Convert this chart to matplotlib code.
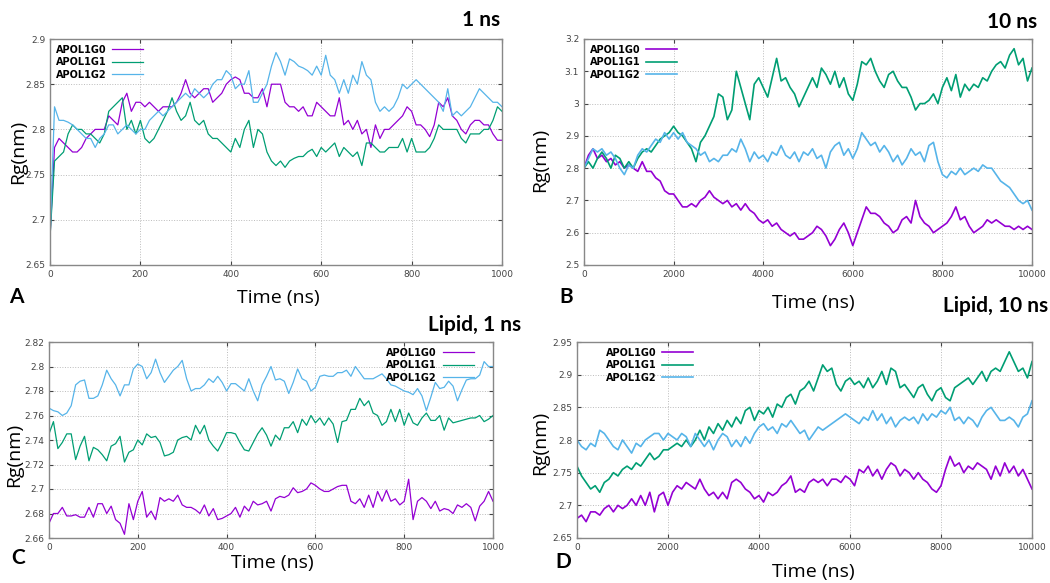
import numpy as np
import matplotlib
matplotlib.use("Agg")
import matplotlib.pyplot as plt
from matplotlib.ticker import FormatStrFormatter

# --- data ---
labels = ["APOL1G0", "APOL1G1", "APOL1G2"]
colors = ["#9400D3", "#009E73", "#56B4E9"]

t_short = np.arange(0, 1001, 10)
t_long = np.arange(0, 10001, 100)

# panel A: 1 ns
a_g0 = [2.68, 2.78, 2.79, 2.785, 2.78, 2.775, 2.775, 2.78, 2.79, 2.795,
        2.80, 2.80, 2.80, 2.815, 2.81, 2.805, 2.83, 2.84, 2.82, 2.83,
        2.83, 2.825, 2.83, 2.825, 2.82, 2.825, 2.825, 2.825, 2.83, 2.84,
        2.855, 2.84, 2.835, 2.84, 2.845, 2.845, 2.83, 2.835, 2.84, 2.85,
        2.855, 2.858, 2.855, 2.84, 2.84, 2.835, 2.835, 2.845, 2.825, 2.85,
        2.85, 2.85, 2.83, 2.825, 2.825, 2.82, 2.825, 2.815, 2.815, 2.83,
        2.825, 2.82, 2.815, 2.815, 2.835, 2.805, 2.81, 2.80, 2.81, 2.795,
        2.80, 2.78, 2.805, 2.79, 2.80, 2.80, 2.805, 2.81, 2.815, 2.825,
        2.82, 2.805, 2.805, 2.80, 2.792, 2.805, 2.83, 2.825, 2.835, 2.815,
        2.81, 2.80, 2.795, 2.805, 2.81, 2.81, 2.805, 2.805, 2.795, 2.788,
        2.788]
a_g1 = [2.68, 2.765, 2.77, 2.775, 2.795, 2.805, 2.80, 2.80, 2.795, 2.795,
        2.79, 2.785, 2.795, 2.82, 2.825, 2.83, 2.835, 2.80, 2.81, 2.795,
        2.81, 2.79, 2.785, 2.79, 2.80, 2.81, 2.82, 2.835, 2.82, 2.81,
        2.815, 2.83, 2.81, 2.805, 2.81, 2.795, 2.79, 2.79, 2.785, 2.78,
        2.775, 2.79, 2.78, 2.80, 2.81, 2.78, 2.80, 2.795, 2.775, 2.765,
        2.76, 2.765, 2.758, 2.765, 2.768, 2.77, 2.77, 2.775, 2.778, 2.77,
        2.78, 2.775, 2.78, 2.785, 2.77, 2.78, 2.775, 2.77, 2.775, 2.76,
        2.785, 2.785, 2.78, 2.775, 2.775, 2.78, 2.78, 2.78, 2.79, 2.775,
        2.79, 2.775, 2.775, 2.775, 2.78, 2.79, 2.805, 2.80, 2.80, 2.80,
        2.80, 2.79, 2.785, 2.795, 2.795, 2.795, 2.80, 2.80, 2.81, 2.825,
        2.82]
a_g2 = [2.68, 2.825, 2.81, 2.81, 2.808, 2.805, 2.80, 2.795, 2.79, 2.79,
        2.78, 2.79, 2.795, 2.805, 2.805, 2.795, 2.80, 2.805, 2.80, 2.795,
        2.80, 2.80, 2.81, 2.815, 2.82, 2.815, 2.82, 2.825, 2.83, 2.835,
        2.84, 2.835, 2.845, 2.84, 2.835, 2.84, 2.85, 2.855, 2.855, 2.865,
        2.86, 2.845, 2.85, 2.85, 2.865, 2.83, 2.83, 2.84, 2.85, 2.87,
        2.885, 2.875, 2.86, 2.878, 2.875, 2.87, 2.868, 2.865, 2.86, 2.87,
        2.86, 2.882, 2.86, 2.855, 2.84, 2.855, 2.84, 2.86, 2.85, 2.875,
        2.86, 2.855, 2.83, 2.82, 2.825, 2.82, 2.825, 2.835, 2.85, 2.845,
        2.85, 2.855, 2.85, 2.845, 2.84, 2.835, 2.83, 2.82, 2.845, 2.815,
        2.82, 2.815, 2.82, 2.825, 2.835, 2.845, 2.84, 2.835, 2.83, 2.83,
        2.825]

# panel B: 10 ns
b_g0 = [2.80, 2.84, 2.86, 2.83, 2.84, 2.82, 2.83, 2.81, 2.82, 2.80,
        2.81, 2.80, 2.79, 2.82, 2.79, 2.79, 2.77, 2.76, 2.73, 2.72,
        2.72, 2.70, 2.68, 2.68, 2.69, 2.68, 2.70, 2.71, 2.73, 2.71,
        2.70, 2.69, 2.70, 2.68, 2.69, 2.67, 2.69, 2.67, 2.66, 2.64,
        2.63, 2.64, 2.62, 2.63, 2.61, 2.60, 2.59, 2.60, 2.58, 2.58,
        2.59, 2.60, 2.62, 2.61, 2.59, 2.56, 2.58, 2.61, 2.63, 2.60,
        2.56, 2.60, 2.64, 2.68, 2.66, 2.66, 2.65, 2.63, 2.62, 2.60,
        2.61, 2.64, 2.65, 2.63, 2.70, 2.65, 2.63, 2.62, 2.60, 2.61,
        2.62, 2.63, 2.65, 2.68, 2.64, 2.65, 2.62, 2.60, 2.61, 2.62,
        2.64, 2.63, 2.64, 2.63, 2.62, 2.62, 2.61, 2.62, 2.61, 2.62,
        2.61]
b_g1 = [2.80, 2.82, 2.80, 2.83, 2.85, 2.83, 2.80, 2.84, 2.83, 2.80,
        2.82, 2.80, 2.83, 2.85, 2.86, 2.85, 2.87, 2.89, 2.90, 2.91,
        2.93, 2.91, 2.90, 2.88, 2.86, 2.82, 2.88, 2.90, 2.93, 2.96,
        3.03, 3.02, 2.95, 2.98, 3.10, 3.05, 3.00, 2.95, 3.06, 3.08,
        3.05, 3.02, 3.08, 3.14, 3.07, 3.08, 3.05, 3.03, 2.99, 3.02,
        3.05, 3.08, 3.05, 3.11, 3.09, 3.06, 3.10, 3.05, 3.08, 3.03,
        3.01, 3.06, 3.13, 3.12, 3.14, 3.10, 3.07, 3.05, 3.09, 3.10,
        3.07, 3.05, 3.05, 3.02, 2.98, 3.00, 3.00, 3.01, 3.03, 3.00,
        3.05, 3.08, 3.04, 3.09, 3.02, 3.06, 3.04, 3.06, 3.05, 3.08,
        3.07, 3.10, 3.12, 3.13, 3.11, 3.15, 3.17, 3.12, 3.14, 3.07,
        3.11]
b_g2 = [2.80, 2.83, 2.86, 2.85, 2.86, 2.84, 2.85, 2.83, 2.80, 2.78,
        2.81, 2.80, 2.84, 2.86, 2.85, 2.87, 2.89, 2.88, 2.91, 2.89,
        2.91, 2.89, 2.91, 2.88, 2.87, 2.86, 2.84, 2.85, 2.82, 2.83,
        2.82, 2.84, 2.84, 2.86, 2.85, 2.89, 2.86, 2.82, 2.85, 2.83,
        2.84, 2.82, 2.85, 2.84, 2.87, 2.84, 2.83, 2.85, 2.82, 2.85,
        2.84, 2.86, 2.83, 2.84, 2.80, 2.85, 2.87, 2.88, 2.84, 2.86,
        2.83, 2.86, 2.91, 2.89, 2.87, 2.88, 2.85, 2.87, 2.85, 2.82,
        2.84, 2.81, 2.83, 2.86, 2.84, 2.85, 2.82, 2.87, 2.88, 2.82,
        2.78, 2.77, 2.79, 2.78, 2.80, 2.78, 2.79, 2.80, 2.79, 2.81,
        2.80, 2.80, 2.78, 2.76, 2.75, 2.74, 2.72, 2.70, 2.69, 2.70,
        2.67]

# panel C: lipid, 1 ns
c_g0 = [2.672, 2.68, 2.68, 2.685, 2.678, 2.678, 2.679, 2.677, 2.677, 2.685,
        2.677, 2.688, 2.688, 2.68, 2.686, 2.675, 2.672, 2.663, 2.688, 2.675,
        2.69, 2.698, 2.677, 2.682, 2.675, 2.693, 2.69, 2.692, 2.69, 2.695,
        2.687, 2.685, 2.685, 2.683, 2.68, 2.687, 2.678, 2.684, 2.675, 2.676,
        2.678, 2.68, 2.685, 2.677, 2.686, 2.682, 2.69, 2.687, 2.688, 2.69,
        2.682, 2.692, 2.694, 2.693, 2.695, 2.701, 2.697, 2.698, 2.70, 2.705,
        2.703, 2.70, 2.698, 2.698, 2.70, 2.702, 2.703, 2.703, 2.69, 2.688,
        2.692, 2.685, 2.695, 2.685, 2.698, 2.69, 2.699, 2.69, 2.692, 2.687,
        2.69, 2.708, 2.675, 2.69, 2.693, 2.69, 2.684, 2.69, 2.682, 2.684,
        2.683, 2.68, 2.687, 2.685, 2.688, 2.685, 2.674, 2.686, 2.69, 2.698,
        2.69]
c_g1 = [2.745, 2.755, 2.733, 2.738, 2.745, 2.745, 2.724, 2.735, 2.743, 2.723,
        2.734, 2.732, 2.728, 2.723, 2.735, 2.737, 2.743, 2.722, 2.73, 2.732,
        2.74, 2.736, 2.745, 2.742, 2.743, 2.738, 2.727, 2.728, 2.73, 2.74,
        2.742, 2.743, 2.74, 2.752, 2.745, 2.752, 2.74, 2.735, 2.731, 2.738,
        2.746, 2.746, 2.745, 2.738, 2.732, 2.731, 2.738, 2.745, 2.75, 2.744,
        2.735, 2.744, 2.74, 2.75, 2.75, 2.755, 2.746, 2.757, 2.752, 2.76,
        2.754, 2.758, 2.752, 2.758, 2.753, 2.738, 2.755, 2.756, 2.765, 2.765,
        2.774, 2.768, 2.772, 2.762, 2.76, 2.752, 2.755, 2.765, 2.755, 2.765,
        2.752, 2.762, 2.754, 2.752, 2.758, 2.762, 2.756, 2.756, 2.76, 2.748,
        2.758, 2.754, 2.755, 2.756, 2.757, 2.758, 2.758, 2.76, 2.755, 2.757,
        2.76]
c_g2 = [2.766, 2.764, 2.763, 2.76, 2.762, 2.768, 2.785, 2.788, 2.789, 2.774,
        2.774, 2.776, 2.785, 2.797, 2.79, 2.785, 2.776, 2.785, 2.785, 2.798,
        2.802, 2.80, 2.79, 2.795, 2.806, 2.795, 2.787, 2.792, 2.797, 2.80,
        2.805, 2.79, 2.78, 2.782, 2.782, 2.785, 2.79, 2.787, 2.792, 2.787,
        2.78, 2.786, 2.786, 2.783, 2.78, 2.79, 2.78, 2.772, 2.785, 2.792,
        2.80, 2.789, 2.79, 2.788, 2.778, 2.787, 2.798, 2.79, 2.788, 2.78,
        2.783, 2.792, 2.793, 2.792, 2.792, 2.795, 2.795, 2.797, 2.792, 2.80,
        2.795, 2.79, 2.79, 2.79, 2.792, 2.794, 2.79, 2.785, 2.784, 2.782,
        2.78, 2.779, 2.777, 2.782, 2.776, 2.764, 2.775, 2.787, 2.782, 2.783,
        2.788, 2.784, 2.772, 2.781, 2.789, 2.79, 2.79, 2.793, 2.804, 2.80,
        2.80]

# panel D: lipid, 10 ns
d_g0 = [2.68, 2.685, 2.675, 2.69, 2.69, 2.685, 2.695, 2.70, 2.69, 2.70,
        2.695, 2.70, 2.71, 2.70, 2.715, 2.70, 2.72, 2.69, 2.715, 2.72,
        2.70, 2.72, 2.73, 2.725, 2.735, 2.73, 2.725, 2.74, 2.725, 2.715,
        2.72, 2.71, 2.72, 2.71, 2.735, 2.74, 2.735, 2.725, 2.72, 2.71,
        2.715, 2.705, 2.72, 2.715, 2.72, 2.73, 2.735, 2.745, 2.72, 2.725,
        2.72, 2.735, 2.74, 2.735, 2.74, 2.73, 2.74, 2.74, 2.735, 2.745,
        2.74, 2.73, 2.755, 2.75, 2.76, 2.745, 2.755, 2.74, 2.755, 2.765,
        2.76, 2.745, 2.755, 2.75, 2.74, 2.75, 2.74, 2.735, 2.725, 2.72,
        2.73, 2.755, 2.775, 2.76, 2.765, 2.75, 2.76, 2.755, 2.765, 2.76,
        2.755, 2.74, 2.76, 2.745, 2.765, 2.75, 2.76, 2.745, 2.755, 2.74,
        2.725]
d_g1 = [2.76, 2.745, 2.735, 2.725, 2.73, 2.72, 2.735, 2.74, 2.75, 2.745,
        2.755, 2.76, 2.755, 2.765, 2.76, 2.77, 2.78, 2.77, 2.775, 2.785,
        2.785, 2.79, 2.795, 2.79, 2.80, 2.79, 2.80, 2.815, 2.80, 2.82,
        2.81, 2.825, 2.815, 2.83, 2.82, 2.835, 2.825, 2.845, 2.85, 2.83,
        2.845, 2.84, 2.85, 2.835, 2.855, 2.85, 2.865, 2.87, 2.855, 2.875,
        2.88, 2.89, 2.875, 2.895, 2.915, 2.905, 2.91, 2.885, 2.875, 2.89,
        2.895, 2.885, 2.89, 2.88, 2.895, 2.88, 2.89, 2.905, 2.885, 2.91,
        2.905, 2.88, 2.885, 2.875, 2.865, 2.88, 2.885, 2.87, 2.86, 2.875,
        2.88, 2.865, 2.86, 2.88, 2.885, 2.89, 2.895, 2.885, 2.895, 2.905,
        2.89, 2.905, 2.91, 2.905, 2.92, 2.935, 2.92, 2.905, 2.91, 2.895,
        2.92]
d_g2 = [2.80, 2.79, 2.785, 2.795, 2.79, 2.815, 2.81, 2.80, 2.79, 2.785,
        2.80, 2.79, 2.78, 2.795, 2.79, 2.80, 2.805, 2.81, 2.81, 2.80,
        2.81, 2.805, 2.80, 2.81, 2.805, 2.79, 2.81, 2.80, 2.79, 2.80,
        2.785, 2.80, 2.81, 2.805, 2.79, 2.80, 2.79, 2.805, 2.795, 2.81,
        2.82, 2.825, 2.815, 2.82, 2.81, 2.825, 2.82, 2.83, 2.82, 2.81,
        2.815, 2.80, 2.81, 2.82, 2.815, 2.82, 2.825, 2.83, 2.835, 2.84,
        2.835, 2.83, 2.825, 2.835, 2.83, 2.845, 2.83, 2.84, 2.825, 2.835,
        2.82, 2.83, 2.835, 2.83, 2.835, 2.825, 2.84, 2.83, 2.84, 2.835,
        2.845, 2.84, 2.85, 2.83, 2.835, 2.825, 2.835, 2.83, 2.82, 2.835,
        2.845, 2.85, 2.84, 2.83, 2.83, 2.835, 2.83, 2.82, 2.835, 2.84,
        2.86]

W, H = 1050, 583


def px(x, y):
    return x / W, 1 - y / H


def setup(ax, t, series, xmax, ylim, ystep, legend_loc, lw=0.9):
    for y, c, lab in zip(series, colors, labels):
        ax.plot(t, y, color=c, lw=lw, label=lab)
    ax.set_xlim(0, xmax)
    ax.set_ylim(*ylim)
    ax.set_xticks(np.linspace(0, xmax, 6))
    ax.set_yticks(np.arange(ylim[0], ylim[1] + ystep / 2, ystep))
    ax.yaxis.set_major_formatter(FormatStrFormatter("%g"))
    ax.xaxis.set_major_formatter(FormatStrFormatter("%g"))
    ax.tick_params(direction="in", top=True, right=True, length=3,
                   labelsize=6.5, colors="#444", width=0.8)
    ax.grid(True, linestyle=":", color="#bbbbbb", lw=0.7)
    for s in ax.spines.values():
        s.set_color("#888888")
        s.set_linewidth(1.0)
    ax.legend(loc=legend_loc, frameon=False, markerfirst=False,
              prop={"size": 7, "weight": "bold"}, handlelength=3.2,
              labelspacing=0.25, borderaxespad=0.2, handletextpad=0.6)


fig = plt.figure(figsize=(10.5, 5.83), dpi=100)

axA = fig.add_axes([50 / W, 1 - 265 / H, 452 / W, 226 / H])
axB = fig.add_axes([584 / W, 1 - 265 / H, 448 / W, 226 / H])
axC = fig.add_axes([49 / W, 1 - 538 / H, 444 / W, 196 / H])
axD = fig.add_axes([577 / W, 1 - 538 / H, 455 / W, 196 / H])

setup(axA, t_short, [a_g0, a_g1, a_g2], 1000, (2.65, 2.9), 0.05, "upper left")
setup(axB, t_long, [b_g0, b_g1, b_g2], 10000, (2.5, 3.2), 0.1, "upper left", lw=1.2)
setup(axC, t_short, [c_g0, c_g1, c_g2], 1000, (2.66, 2.82), 0.02, "upper right")
setup(axD, t_long, [d_g0, d_g1, d_g2], 10000, (2.65, 2.95), 0.05, "upper left", lw=1.2)

# legend offsets to match the reference
axC.get_legend().set_bbox_to_anchor((0.97, 1.0))
axD.get_legend().set_bbox_to_anchor((0.05, 1.0))

big = {"family": "Open Sans", "size": 14}
bold = {"family": "Lato", "size": 15, "weight": "bold"}

# axis labels
for (x, y) in [(18, 152), (540, 160), (14, 455), (540, 443)]:
    fig.text(*px(x, y), "Rg(nm)", rotation=90, ha="center", va="center", fontdict=big)
for (x, y) in [(278, 298), (813, 303), (272, 563), (813, 572)]:
    fig.text(*px(x, y), "Time (ns)", ha="center", va="center", fontdict=big)

# panel letters
for (x, y, s) in [(16, 297, "A"), (566, 297, "B"), (18, 558, "C"), (563, 562, "D")]:
    fig.text(*px(x, y), s, ha="center", va="center", fontdict=bold)

# panel titles
fig.text(*px(500, 20), "1 ns", ha="right", va="center", fontdict=bold)
fig.text(*px(1037, 22), "10 ns", ha="right", va="center", fontdict=bold)
fig.text(*px(521, 325), "Lipid, 1 ns", ha="right", va="center", fontdict=bold)
fig.text(*px(1048, 306), "Lipid, 10 ns", ha="right", va="center", fontdict=bold)

fig.savefig("out.png", dpi=100)
